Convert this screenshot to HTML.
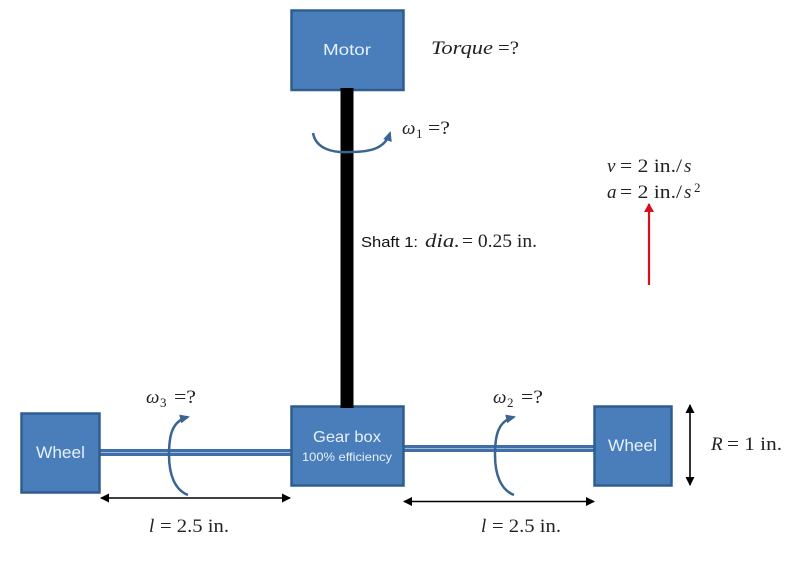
<!DOCTYPE html>
<html><head><meta charset="utf-8"><style>
html,body{margin:0;padding:0;background:#fff;width:800px;height:565px;overflow:hidden}
svg{display:block}
.box{fill:#4a7ebb;stroke:#2f5d8f;stroke-width:2.5}
.lbl{font-family:"Liberation Sans",sans-serif;fill:#e6f0fa;text-anchor:start}
.m{font-family:"Liberation Serif",serif;font-size:19px;fill:#222}
.i{font-style:italic}
.s{font-size:13px}
</style></head><body>
<svg width="800" height="565" viewBox="0 0 800 565" xmlns="http://www.w3.org/2000/svg">
<defs>
<marker id="b" markerUnits="userSpaceOnUse" markerWidth="9" markerHeight="9" refX="8" refY="4.5" orient="auto-start-reverse"><path d="M0 0L9 4.5L0 9Z" fill="#000"/></marker>
<marker id="r" markerUnits="userSpaceOnUse" markerWidth="9" markerHeight="10" refX="8" refY="5" orient="auto"><path d="M0 0L9 5L0 10Z" fill="#d4101c"/></marker>
<marker id="c" markerUnits="userSpaceOnUse" markerWidth="10" markerHeight="9" refX="8" refY="4.5" orient="auto"><path d="M0 0L10 4.5L0 9Z" fill="#3a6491"/></marker>
</defs>
<rect x="100" y="449" width="191" height="7" fill="#3f6fa8"/>
<line x1="100" y1="452.5" x2="291" y2="452.5" stroke="#9db8d8" stroke-width="1"/>
<rect x="404" y="445" width="190" height="7" fill="#3f6fa8"/>
<line x1="404" y1="448.5" x2="594" y2="448.5" stroke="#9db8d8" stroke-width="1"/>
<rect class="box" x="291.5" y="10.5" width="112" height="79.500"/>
<rect class="box" x="291.500" y="406.500" width="112" height="79"/>
<rect class="box" x="21.500" y="413.500" width="78" height="79"/>
<rect class="box" x="594.500" y="406.500" width="77" height="79"/>
<rect x="340.5" y="88" width="13" height="320" fill="#000"/>
<text class="lbl" x="323" y="55" font-size="16" textLength="48" lengthAdjust="spacingAndGlyphs">Motor</text>
<text class="lbl" x="36" y="458" font-size="17" textLength="49" lengthAdjust="spacingAndGlyphs">Wheel</text>
<text class="lbl" x="608" y="451" font-size="17" textLength="49" lengthAdjust="spacingAndGlyphs">Wheel</text>
<text class="lbl" x="313" y="442" font-size="16" textLength="68" lengthAdjust="spacingAndGlyphs">Gear box</text>
<text class="lbl" x="302" y="461" font-size="12" textLength="90" lengthAdjust="spacingAndGlyphs">100% efficiency</text>
<path d="M313 133C316 150 335 153 350 152C372 152 385 148 390 133" fill="none" stroke="#3a6491" stroke-width="2.500" marker-end="url(#c)"/>
<path d="M188 495C175 490 169 475 169 455C169 435 172 421 188 417" fill="none" stroke="#3a6491" stroke-width="2.500" marker-end="url(#c)"/>
<path d="M514 495C501 490 495 475 495 455C495 435 498 421 514 417" fill="none" stroke="#3a6491" stroke-width="2.500" marker-end="url(#c)"/>
<line x1="101" y1="498" x2="290" y2="498" stroke="#000" stroke-width="1.600" marker-start="url(#b)" marker-end="url(#b)"/>
<line x1="404" y1="501.500" x2="594" y2="501.500" stroke="#000" stroke-width="1.600" marker-start="url(#b)" marker-end="url(#b)"/>
<line x1="690" y1="405" x2="690" y2="485" stroke="#000" stroke-width="1.600" marker-start="url(#b)" marker-end="url(#b)"/>
<line x1="649" y1="285" x2="649" y2="204" stroke="#d4101c" stroke-width="2.200" marker-end="url(#r)"/>
<text class="m i" x="431" y="54" textLength="62" lengthAdjust="spacingAndGlyphs">Torque</text><text class="m" x="498" y="54" textLength="21" lengthAdjust="spacingAndGlyphs">=?</text>
<text class="m i" x="402" y="134">ω</text><text class="m s" x="416" y="138">1</text><text class="m" x="428" y="134" textLength="22" lengthAdjust="spacingAndGlyphs">=?</text>
<text class="m i" x="146" y="403">ω</text><text class="m s" x="160" y="407">3</text><text class="m" x="174" y="403" textLength="22" lengthAdjust="spacingAndGlyphs">=?</text>
<text class="m i" x="493" y="403">ω</text><text class="m s" x="507" y="407">2</text><text class="m" x="521" y="403" textLength="22" lengthAdjust="spacingAndGlyphs">=?</text>
<text class="m i" x="607" y="172">v</text><text class="m" x="620" y="172" textLength="62" lengthAdjust="spacingAndGlyphs">= 2 in./</text><text class="m i" x="684" y="172">s</text>
<text class="m i" x="607" y="198">a</text><text class="m" x="620" y="198" textLength="62" lengthAdjust="spacingAndGlyphs">= 2 in./</text><text class="m i" x="684" y="198">s</text><text class="m s" x="694" y="192">2</text>
<text x="361" y="247" font-family="Liberation Sans,sans-serif" font-size="15" fill="#111" textLength="57" lengthAdjust="spacingAndGlyphs">Shaft 1:</text>
<text class="m i" x="425" y="247" textLength="35" lengthAdjust="spacingAndGlyphs">dia.</text><text class="m" x="462" y="247" textLength="75" lengthAdjust="spacingAndGlyphs">= 0.25 in.</text>
<text class="m i" x="149" y="532">l</text><text class="m" x="160" y="532" textLength="69" lengthAdjust="spacingAndGlyphs">= 2.5 in.</text>
<text class="m i" x="481" y="532">l</text><text class="m" x="492" y="532" textLength="69" lengthAdjust="spacingAndGlyphs">= 2.5 in.</text>
<text class="m i" x="711" y="450">R</text><text class="m" x="727" y="450" textLength="55" lengthAdjust="spacingAndGlyphs">= 1 in.</text>
</svg>
</body></html>
